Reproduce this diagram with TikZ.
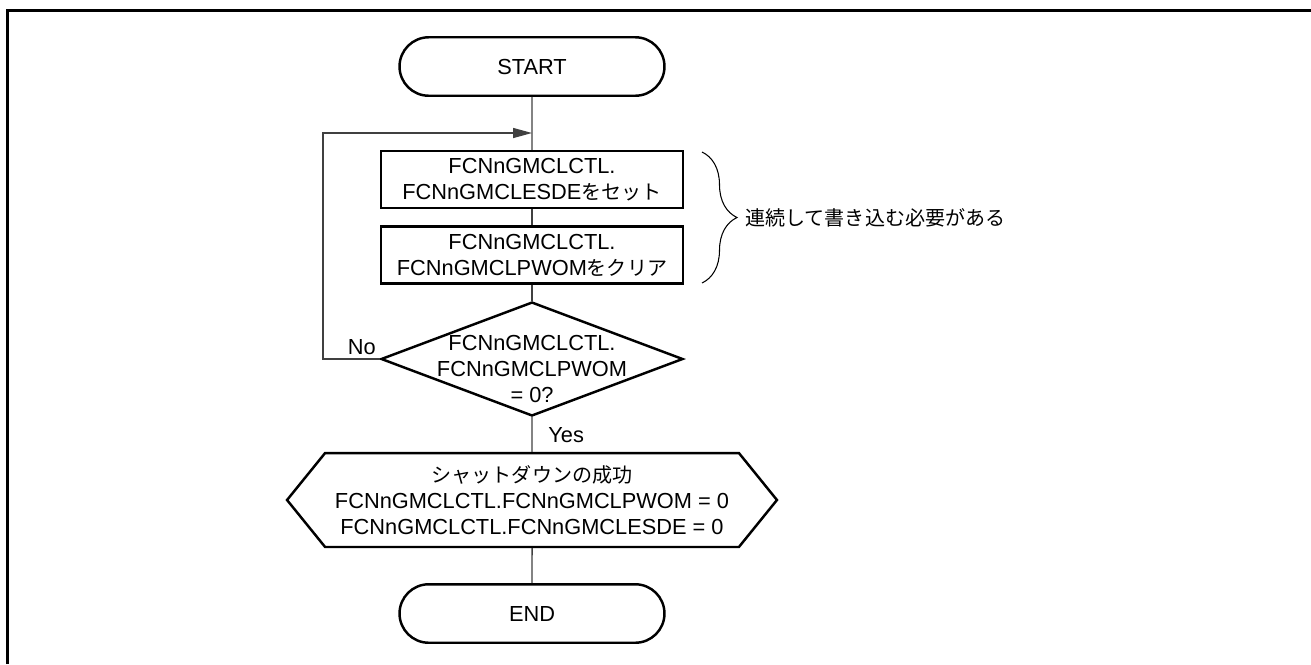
\documentclass[tikz,border=0pt]{standalone}
\usepackage{fontspec}
\setmainfont{Liberation Sans}
\newfontfamily\jp[Scale=0.92]{Noto Sans CJK JP}
\usepackage{tikz}
\usetikzlibrary{arrows.meta,calc,shapes.geometric,shapes.misc,shapes.symbols,decorations.pathreplacing}
\newcommand{\flowfont}{\fontsize{12.4pt}{14.7pt}\selectfont}
\tikzset{
  frameline/.style={black, line width=1.4pt},
  flowline/.style={black!75, line width=0.8pt},
  backarrow/.style={flowline, -{Triangle[length=0.38cm, width=0.2cm]}},
  terminal/.style={draw, rounded rectangle, line width=1.4pt,
    minimum width=5.3cm, minimum height=1.17cm, inner sep=0pt},
  procbox/.style={draw, rectangle, line width=1.4pt, align=center,
    minimum width=6.04cm, minimum height=1.14cm, inner sep=0pt},
  decision/.style={draw, diamond, line width=1.4pt,
    minimum width=6.04cm, minimum height=2.28cm, inner sep=0pt},
  prepbox/.style={draw, signal, signal to=west and east, signal pointer angle=102,
    line width=1.4pt, align=center, minimum width=9.8cm, minimum height=1.88cm, inner sep=0pt},
  bracenote/.style={decorate, decoration={brace, amplitude=0.7cm}, black, line width=0.6pt},
  lbl/.style={inner sep=0pt, align=center},
}

\begin{document}
\begin{tikzpicture}[x=0.02cm, y=-0.02cm, every node/.append style={font=\flowfont}]
    \useasboundingbox (0,0) rectangle (1311,664);
    % frame (top and left edges only)
    \draw[frameline] (7.5,664) -- (7.5,10.5) -- (1311,10.5);
    % flow nodes
    \node[terminal] (start) at (532,66.5) {START};
    \node[procbox] (setesd) at (532,179.5)
      {FCNnGMCLCTL.\\FCNnGMCLESDE{\jp をセット}};
    \node[procbox] (clrpwo) at (532,255)
      {FCNnGMCLCTL.\\FCNnGMCLPWOM{\jp をクリア}};
    \node[decision] (chkpwo) at (532,359) {};
    \node[lbl] (chktext) at (532,369) {FCNnGMCLCTL.\\FCNnGMCLPWOM\\= 0?};
    \node[prepbox] (done) at (532,500)
      {{\jp シャットダウンの成功}\\FCNnGMCLCTL.FCNnGMCLPWOM = 0\\FCNnGMCLCTL.FCNnGMCLESDE = 0};
    \node[terminal] (end) at (532,613.5) {END};
    % connectors
    \draw[flowline] (start) -- (setesd);
    \draw[flowline] (setesd) -- (clrpwo);
    \draw[flowline] (clrpwo) -- (chkpwo.north);
    \draw[flowline] (chkpwo.south) -- (done);
    \draw[flowline] (done) -- (end);
    % retry loop
    \coordinate (loopcorner) at (323,133);
    \coordinate (merge) at (532,133);
    \draw[backarrow] (chkpwo.west) -| (loopcorner) -- (merge);
    \node[lbl, anchor=south east] (no) at (376,355) {No};
    \node[lbl, anchor=west] (yes) at (548,435) {Yes};
    % brace and note
    \draw[bracenote] (702,152) -- (702,283);
    \node[lbl, anchor=west] (note) at (745,218) {\jp 連続して書き込む必要がある};
  \end{tikzpicture}
\end{document}
